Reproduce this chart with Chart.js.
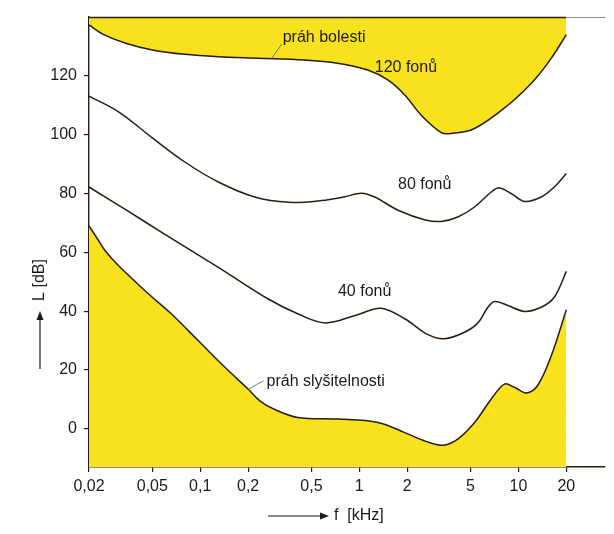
<!DOCTYPE html>
<html><head><meta charset="utf-8">
<script src="https://cdn.jsdelivr.net/npm/chart.js@4/dist/chart.umd.min.js"></script>
<style>html,body{margin:0;padding:0;background:#fff;}canvas{display:block;}</style>
</head><body>
<canvas id="c" width="614" height="534"></canvas>
<script>
// ---- data ----
const xTickValues = [0.02, 0.05, 0.1, 0.2, 0.5, 1, 2, 5, 10, 20];
const xTickLabels = ['0,02', '0,05', '0,1', '0,2', '0,5', '1', '2', '5', '10', '20'];
const yTickValues = [0, 20, 40, 60, 80, 100, 120];

// 120 fonů – práh bolesti
const painFreq  = [0.02, 0.025, 0.034, 0.05, 0.08, 0.13, 0.23, 0.45, 0.73, 1.13, 1.51, 1.93, 2.45, 3.27, 3.78, 5.3, 8.58, 12.6, 16.1, 20];
const painLevel = [137.3, 133.9, 131.1, 128.8, 127.3, 126.5, 126.0, 125.4, 124.3, 122.0, 118.6, 113.5, 106.6, 100.7, 100.4, 102.1, 110.0, 118.6, 126.0, 134.0];

// 80 fonů
const phon80Freq  = [0.02, 0.031, 0.05, 0.08, 0.13, 0.22, 0.36, 0.58, 0.81, 1.03, 1.25, 1.75, 2.6, 3.27, 4.16, 5.3, 6.75, 7.6, 9.0, 10.9, 13.9, 16.8, 20];
const phon80Level = [113.1, 107.6, 98.9, 90.7, 83.9, 78.8, 77.0, 77.6, 78.9, 80.1, 78.8, 74.3, 71.0, 70.5, 72.0, 75.4, 80.5, 81.9, 80.0, 77.3, 78.8, 82.2, 86.8];

// 40 fonů
const phon40Freq  = [0.02, 0.034, 0.06, 0.13, 0.266, 0.41, 0.61, 0.94, 1.37, 1.93, 2.7, 3.43, 4.58, 5.56, 6.43, 7.08, 8.58, 10.9, 13.9, 16.8, 20];
const phon40Level = [82.2, 74.5, 66.1, 54.9, 44.2, 39.1, 36.0, 38.5, 41.0, 37.4, 32.0, 30.6, 32.8, 36.0, 41.3, 43.3, 41.9, 39.9, 41.3, 44.7, 53.5];

// práh slyšitelnosti
const hearFreq  = [0.02, 0.0229, 0.0252, 0.0306, 0.047, 0.066, 0.097, 0.143, 0.2, 0.237, 0.29, 0.41, 0.73, 1.31, 1.93, 2.6, 3.35, 4.16, 5.3, 6.75, 8.17, 9.44, 11.2, 13.2, 16.1, 20];
const hearLevel = [69.0, 64.1, 60.6, 55.5, 46.0, 39.0, 30.0, 20.9, 13.5, 9.5, 6.7, 3.85, 3.3, 2.15, -1.3, -4.2, -5.6, -3.5, 2.1, 10.1, 15.2, 14.1, 12.2, 14.7, 24.9, 40.5];

const curveLabels = ['práh bolesti', '120 fonů', '80 fonů', '40 fonů', 'práh slyšitelnosti'];

// ---- presentation ----
const FONT = '"Liberation Sans", Arial, Helvetica, sans-serif';
const INK = '#1d1a17';
const LINE = '#2a1c12';
const YELLOW = '#f7e21d';

// label anchors in data space (frequency, level)
const labelAnchors = [
  { text: curveLabels[0], f: 0.33, L: 132.9 },
  { text: curveLabels[1], f: 1.25, L: 122.8 },
  { text: curveLabels[2], f: 1.75, L: 83.1 },
  { text: curveLabels[3], f: 0.734, L: 46.5 },
  { text: curveLabels[4], f: 0.261, L: 16.2 }
];
const leaders = [
  { f1: 0.3255, L1: 130.8, f2: 0.2817, L2: 126.0 },
  { f1: 0.2509, L1: 16.35, f2: 0.199, L2: 13.3 }
];

function pts(fs, ls) { return fs.map((f, i) => ({ x: f, y: ls[i] })); }

const decor = {
  id: 'decor',
  afterDatasetsDraw(chart) {
    const ctx = chart.ctx, xs = chart.scales.x, ys = chart.scales.y, a = chart.chartArea;
    ctx.save();
    // top border
    const x20 = xs.getPixelForValue(20);
    ctx.lineWidth = 1.4;
    ctx.strokeStyle = LINE;
    ctx.beginPath(); ctx.moveTo(a.left, a.top + 0.5); ctx.lineTo(x20, a.top + 0.5); ctx.stroke();
    ctx.strokeStyle = '#8a8a8a'; ctx.lineWidth = 1;
    ctx.beginPath(); ctx.moveTo(x20, a.top + 0.5); ctx.lineTo(a.right, a.top + 0.5); ctx.stroke();

    // curve labels
    ctx.fillStyle = INK;
    ctx.font = '16px ' + FONT;
    ctx.textAlign = 'left';
    ctx.textBaseline = 'middle';
    labelAnchors.forEach(l => {
      ctx.fillText(l.text, xs.getPixelForValue(l.f), ys.getPixelForValue(l.L));
    });
    // leader lines
    ctx.strokeStyle = '#6b6b6b'; ctx.lineWidth = 0.9;
    leaders.forEach(d => {
      ctx.beginPath();
      ctx.moveTo(xs.getPixelForValue(d.f1), ys.getPixelForValue(d.L1));
      ctx.lineTo(xs.getPixelForValue(d.f2), ys.getPixelForValue(d.L2));
      ctx.stroke();
    });

    // axis titles with arrows
    ctx.fillStyle = INK; ctx.strokeStyle = INK; ctx.lineWidth = 1.2;
    const ty = a.bottom + 49;
    ctx.beginPath(); ctx.moveTo(268, ty); ctx.lineTo(322, ty); ctx.stroke();
    ctx.beginPath(); ctx.moveTo(329, ty); ctx.lineTo(320, ty - 3.5); ctx.lineTo(320, ty + 3.5); ctx.closePath(); ctx.fill();
    ctx.textAlign = 'left'; ctx.textBaseline = 'middle';
    ctx.fillText('f  [kHz]', 334, ty);
    const tx = 40;
    ctx.beginPath(); ctx.moveTo(tx, 369); ctx.lineTo(tx, 318); ctx.stroke();
    ctx.beginPath(); ctx.moveTo(tx, 311); ctx.lineTo(tx - 3.5, 320); ctx.lineTo(tx + 3.5, 320); ctx.closePath(); ctx.fill();
    ctx.translate(tx, 280); ctx.rotate(-Math.PI / 2);
    ctx.textAlign = 'center'; ctx.textBaseline = 'middle';
    ctx.fillText('L [dB]', 0, 0);
    ctx.restore();
  }
};

const lineStyle = { borderColor: LINE, borderWidth: 1.5, pointRadius: 0, tension: 0.35 };

new Chart(document.getElementById('c'), {
  type: 'line',
  data: {
    datasets: [
      Object.assign({ label: curveLabels[1], data: pts(painFreq, painLevel), fill: 'end', backgroundColor: YELLOW }, lineStyle),
      Object.assign({ label: curveLabels[2], data: pts(phon80Freq, phon80Level), fill: false }, lineStyle),
      Object.assign({ label: curveLabels[3], data: pts(phon40Freq, phon40Level), fill: false }, lineStyle),
      Object.assign({ label: curveLabels[4], data: pts(hearFreq, hearLevel), fill: 'start', backgroundColor: YELLOW }, lineStyle)
    ]
  },
  options: {
    responsive: false,
    animation: false,
    devicePixelRatio: 1,
    layout: { padding: { left: 0, top: 17, right: 9, bottom: 0 } },
    plugins: { legend: { display: false }, tooltip: { enabled: false } },
    scales: {
      x: {
        type: 'logarithmic',
        min: 0.02, max: 35,
        afterBuildTicks(s) { s.ticks = xTickValues.map(v => ({ value: v })); },
        afterFit(s) { s.height = 67; },
        ticks: {
          autoSkip: false, maxRotation: 0, padding: 5, color: INK,
          font: { family: FONT, size: 16 },
          callback(v) { const i = xTickValues.indexOf(v); return i >= 0 ? xTickLabels[i] : ''; }
        },
        grid: { display: true, drawOnChartArea: false, drawTicks: true, tickLength: 5, color: LINE, lineWidth: 1.2 },
        border: { display: true, color: LINE, width: 1.4 }
      },
      y: {
        type: 'linear',
        min: -13, max: 140,
        afterBuildTicks(s) { s.ticks = yTickValues.map(v => ({ value: v })); },
        afterFit(s) { s.width = 89; },
        ticks: { padding: 7, color: INK, font: { family: FONT, size: 16 } },
        grid: { display: true, drawOnChartArea: false, drawTicks: true, tickLength: 5, color: LINE, lineWidth: 1.2 },
        border: { display: true, color: LINE, width: 1.4 }
      }
    }
  },
  plugins: [decor]
});
</script>
</body></html>
